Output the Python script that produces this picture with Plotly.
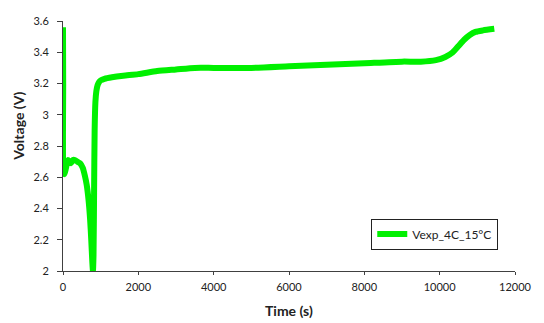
import plotly.graph_objects as go

# Discharge/charge voltage record at 4C, 15 °C
time_s = [0, 5, 15, 40, 80, 130, 170, 210, 260, 315, 380, 450, 525, 580, 630,
          680, 720, 750, 780, 795, 810, 825, 840, 860, 885, 920, 960, 1000,
          1100, 1300, 1600, 2000, 2500, 3000, 3500, 4000, 5000, 6000, 7000,
          8000, 9000, 9500, 9900, 10150, 10350, 10500, 10650, 10800, 10950,
          11150, 11450]
voltage_v = [3.56, 3.2, 2.63, 2.62, 2.66, 2.71, 2.70, 2.69, 2.71, 2.71, 2.70,
             2.69, 2.66, 2.61, 2.55, 2.45, 2.33, 2.2, 2.05, 2.0, 2.1, 2.5,
             2.9, 3.08, 3.15, 3.19, 3.21, 3.22, 3.23, 3.24, 3.25, 3.26, 3.28,
             3.29, 3.30, 3.30, 3.30, 3.31, 3.32, 3.33, 3.34, 3.34, 3.35, 3.37,
             3.40, 3.44, 3.48, 3.51, 3.53, 3.54, 3.55]

series_name = "Vexp_4C_15°C"
x_title = "Time (s)"
y_title = "Voltage (V)"
x_ticks = [0, 2000, 4000, 6000, 8000, 10000, 12000]
y_ticks = [2, 2.2, 2.4, 2.6, 2.8, 3, 3.2, 3.4, 3.6]

FONT = "Lato, Open Sans, sans-serif"
INK = "#222222"

fig = go.Figure()
fig.add_trace(go.Scatter(
    x=time_s, y=voltage_v, mode="lines", name=series_name,
    line=dict(color="#00f000", width=6, shape="spline", smoothing=0.6),
))

axis_font = dict(family=FONT, size=11, color=INK)

fig.update_layout(
    width=544, height=323,
    margin=dict(l=63, r=23, t=21, b=52),
    paper_bgcolor="white", plot_bgcolor="white",
    showlegend=True,
    legend=dict(
        x=0.682, y=0.21, xanchor="left", yanchor="top",
        bgcolor="white", bordercolor=INK, borderwidth=1,
        font=dict(family=FONT, size=12, color=INK),
    ),
    xaxis=dict(
        range=[0, 12000], tickvals=x_ticks, tickformat="d",
        showgrid=False, zeroline=False,
        showline=True, linecolor="#404040", linewidth=1,
        ticks="outside", ticklen=3, tickcolor="#404040",
        tickfont=axis_font, ticklabelstandoff=3,
    ),
    yaxis=dict(
        range=[2, 3.6], tickvals=y_ticks,
        showgrid=False, zeroline=False,
        showline=True, linecolor="#404040", linewidth=1,
        ticks="outside", ticklen=5, tickcolor="#404040",
        tickfont=axis_font, ticklabelstandoff=6,
    ),
    annotations=[
        dict(text=f"<b>{x_title}</b>", xref="paper", yref="paper",
             x=0.5, y=-0.115, xanchor="center", yanchor="top",
             showarrow=False, font=dict(family=FONT, size=14, color=INK)),
        dict(text=f"<b>{y_title}</b>", xref="paper", yref="paper",
             x=-0.1, y=0.58, xanchor="center", yanchor="middle", textangle=-90,
             showarrow=False, font=dict(family=FONT, size=14, color=INK)),
    ],
)

fig.write_html("out.html")
